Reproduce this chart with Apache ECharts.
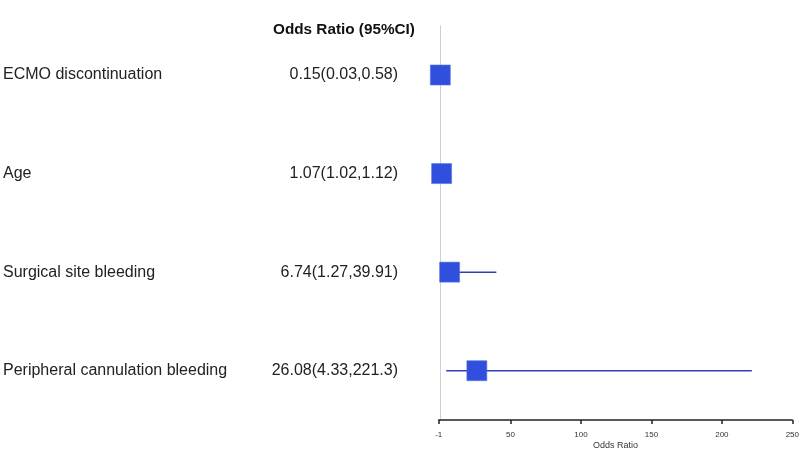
<!DOCTYPE html>
<html>
<head>
<meta charset="utf-8">
<script src="https://cdn.jsdelivr.net/npm/echarts@6/dist/echarts.min.js"></script>
<style>html,body{margin:0;padding:0;background:#fff}#c{width:800px;height:451px}</style>
</head>
<body>
<div id="c"></div>
<script>
var categories = ['ECMO discontinuation', 'Age', 'Surgical site bleeding', 'Peripheral cannulation bleeding'];
var orText = ['0.15(0.03,0.58)', '1.07(1.02,1.12)', '6.74(1.27,39.91)', '26.08(4.33,221.3)'];
var oddsRatio = [0.15, 1.07, 6.74, 26.08];
var ciLow = [0.03, 1.02, 1.27, 4.33];
var ciHigh = [0.58, 1.12, 39.91, 221.3];
var xTicks = [-1, 50, 100, 150, 200, 250];

var chart = echarts.init(document.getElementById('c'));
var font = '"Liberation Sans", Arial, sans-serif';
var ciData = categories.map(function (c, i) { return [ciLow[i], ciHigh[i], i]; });
var pointData = categories.map(function (c, i) { return [oddsRatio[i], i]; });

chart.setOption({
  animation: false,
  title: [{
    text: 'Odds Ratio (95%CI)',
    left: 273, top: 22, padding: 0,
    textStyle: { fontFamily: font, fontSize: 15.3, fontWeight: 'bold', color: '#111' }
  }, {
    text: 'Odds Ratio',
    left: 615.5, top: 441.5, padding: 0, textAlign: 'center',
    textStyle: { fontFamily: font, fontSize: 9, fontWeight: 'normal', color: '#333' }
  }],
  grid: { left: 438.7, right: 7.7, top: 25.7, bottom: 31, outerBoundsMode: 'none', containLabel: false },
  xAxis: {
    type: 'value', min: -1, max: 250,
    axisLine: { show: true, onZero: false, lineStyle: { color: '#222', width: 1.5 } },
    axisTick: { show: true, length: 4, inside: false, customValues: xTicks, lineStyle: { color: '#222', width: 1.5 } },
    axisLabel: { customValues: xTicks, fontFamily: font, fontSize: 8, color: '#333', margin: 11 },
    splitLine: { show: false }
  },
  yAxis: [{
    type: 'category', data: categories, inverse: true,
    axisLine: { show: true, lineStyle: { color: '#cfcfcf', width: 1 } },
    axisTick: { show: false },
    axisLabel: { align: 'left', margin: 435.7, fontFamily: font, fontSize: 16, color: '#222' },
    splitLine: { show: false }
  }, {
    type: 'category', data: orText, inverse: true, position: 'left',
    axisLine: { show: false }, axisTick: { show: false },
    axisLabel: { align: 'right', margin: 40.7, fontFamily: font, fontSize: 16, color: '#222' },
    splitLine: { show: false }
  }],
  series: [{
    type: 'custom',
    data: ciData,
    renderItem: function (params, api) {
      var p1 = api.coord([api.value(0), api.value(2)]);
      var p2 = api.coord([api.value(1), api.value(2)]);
      return { type: 'line', shape: { x1: p1[0], y1: p1[1], x2: p2[0], y2: p2[1] },
        style: { stroke: '#3040b0', lineWidth: 1.5 } };
    },
    encode: { x: [0, 1], y: 2 },
    z: 2
  }, {
    type: 'scatter',
    data: pointData,
    symbol: 'rect', symbolSize: 20,
    itemStyle: { color: '#2f4fdc', borderColor: '#5a74e8', borderWidth: 0.6, opacity: 1 },
    z: 3
  }]
});
</script>
</body>
</html>
